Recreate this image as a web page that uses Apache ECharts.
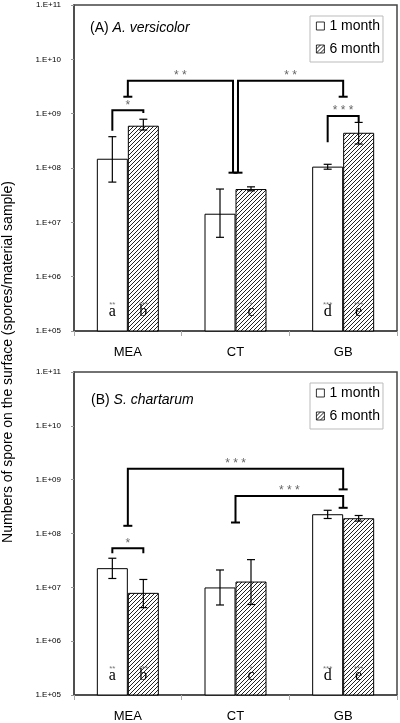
<!DOCTYPE html>
<html><head><meta charset="utf-8">
<script src="https://cdn.jsdelivr.net/npm/echarts@6/dist/echarts.min.js"></script>
<style>html,body{margin:0;padding:0;background:#fff}#c{width:400px;height:723px}</style>
</head><body><div id="c"></div>
<script>
// ---------- data ----------
const categories = ['MEA', 'CT', 'GB'];
const seriesNames = ['1 month', '6 month'];
const yTickLabels = ['1.E+05', '1.E+06', '1.E+07', '1.E+08', '1.E+09', '1.E+10', '1.E+11'];
const yMin = 1e5, yMax = 1e11;

// Panel A: A. versicolor
const A_1m    = [1.48e8, 1.44e7, 1.06e8];
const A_1m_lo = [5.5e7, 5.3e6, 9.5e7];
const A_1m_hi = [3.77e8, 4.1e7, 1.17e8];
const A_6m    = [6.0e8, 4.1e7, 4.45e8];
const A_6m_lo = [5.0e8, 3.8e7, 2.76e8];
const A_6m_hi = [7.9e8, 4.5e7, 6.9e8];

// Panel B: S. chartarum
const B_1m    = [2.27e7, 9.95e6, 2.28e8];
const B_1m_lo = [1.46e7, 4.7e6, 1.9e8];
const B_1m_hi = [3.47e7, 2.1e7, 2.7e8];
const B_6m    = [7.9e6, 1.28e7, 1.92e8];
const B_6m_lo = [4.2e6, 4.8e6, 1.7e8];
const B_6m_hi = [1.4e7, 3.27e7, 2.16e8];

// letters / stars under the bars
const letters1m = ['a', '', 'd'];
const stars1m   = ['**', '', '***'];
const letters6m = ['b', 'c', 'e'];
const stars6m   = ['***', '*', '***'];

// significance brackets: x = [category, offset in bar widths], y values in data units
const bracketsA = [
  {x1: [0, -0.5], y1: 4.85e8, x2: [0, 0.5], y2: 1.03e9, top: 1.15e9, caps: [0, 0], label: '*'},
  {x1: [0, 0], y1: 2.05e9, x2: [1, -0.08], y2: 8.2e7, top: 4.04e9, caps: [1, 1], label: '* *'},
  {x1: [1, 0.08], y1: 8.2e7, x2: [2, 0], y2: 2.05e9, top: 4.04e9, caps: [1, 1], label: '* *'},
  {x1: [2, -0.5], y1: 2.97e8, x2: [2, 0.5], y2: 6.9e8, top: 9.06e8, caps: [0, 0], label: '* * *'}
];
const bracketsB = [
  {x1: [0, -0.5], y1: 4.3e7, x2: [0, 0.5], y2: 4.3e7, top: 5.3e7, caps: [0, 0], label: '*'},
  {x1: [0, 0], y1: 1.39e8, x2: [2, 0], y2: 6.6e8, top: 1.59e9, caps: [1, 1], label: '* * *'},
  {x1: [1, 0], y1: 1.6e8, x2: [2, 0], y2: 3.0e8, top: 4.96e8, caps: [1, 1], label: '* * *'}
];

// ---------- style ----------
const BAR_W = 31;
const CAP = 4;
const SANS = '"Liberation Sans", Arial, sans-serif';
const SERIF = '"Liberation Serif", "Times New Roman", serif';

function hatch() {
  const c = document.createElement('canvas');
  c.width = 4; c.height = 4;
  const g = c.getContext('2d');
  g.fillStyle = '#fff'; g.fillRect(0, 0, 4, 4);
  g.strokeStyle = '#222'; g.lineWidth = 1;
  g.beginPath();
  g.moveTo(0, 4); g.lineTo(4, 0);
  g.moveTo(-1, 1); g.lineTo(1, -1);
  g.moveTo(3, 5); g.lineTo(5, 3);
  g.stroke();
  return c;
}
const hatchPattern = {image: hatch(), repeat: 'repeat'};

function barSeries(name, data, gi, hatched) {
  return {
    name, type: 'bar', xAxisIndex: gi, yAxisIndex: gi, data,
    barWidth: BAR_W, barGap: '0%', clip: true,
    itemStyle: {color: hatched ? hatchPattern : '#fff', borderColor: '#000', borderWidth: 1},
    emphasis: {disabled: true}
  };
}

function errSeries(lo1, hi1, lo6, hi6, gi) {
  const rows = [];
  categories.forEach((c, i) => {
    rows.push([i, lo1[i], hi1[i], -0.5]);
    rows.push([i, lo6[i], hi6[i], 0.5]);
  });
  return {
    type: 'custom', xAxisIndex: gi, yAxisIndex: gi, z: 5, silent: true,
    data: rows,
    renderItem(params, api) {
      const off = api.value(3) * BAR_W;
      const a = api.coord([api.value(0), api.value(1)]);
      const b = api.coord([api.value(0), api.value(2)]);
      const x = a[0] + off;
      const st = {stroke: '#000', lineWidth: 1.2};
      return {type: 'group', children: [
        {type: 'line', shape: {x1: x, y1: a[1], x2: x, y2: b[1]}, style: st},
        {type: 'line', shape: {x1: x - CAP, y1: a[1], x2: x + CAP, y2: a[1]}, style: st},
        {type: 'line', shape: {x1: x - CAP, y1: b[1], x2: x + CAP, y2: b[1]}, style: st}
      ]};
    }
  };
}

function bracketSeries(list, gi) {
  return {
    type: 'custom', xAxisIndex: gi, yAxisIndex: gi, z: 6, silent: true, clip: false,
    data: list.map(b => [b.x1[0], b.top]),
    renderItem(params, api) {
      const b = list[params.dataIndex];
      const p = (x, y) => { const c = api.coord([x[0], y]); return [c[0] + x[1] * BAR_W, c[1]]; };
      const a1 = p(b.x1, b.y1), t1 = p(b.x1, b.top), t2 = p(b.x2, b.top), a2 = p(b.x2, b.y2);
      const st = {stroke: '#000', lineWidth: 2, fill: 'none'};
      const ch = [{type: 'polyline', shape: {points: [a1, t1, t2, a2]}, style: st}];
      if (b.caps[0]) ch.push({type: 'line', shape: {x1: a1[0] - CAP - 0.5, y1: a1[1], x2: a1[0] + CAP + 0.5, y2: a1[1]}, style: st});
      if (b.caps[1]) ch.push({type: 'line', shape: {x1: a2[0] - CAP - 0.5, y1: a2[1], x2: a2[0] + CAP + 0.5, y2: a2[1]}, style: st});
      ch.push({type: 'text', x: (t1[0] + t2[0]) / 2, y: t1[1] - 5,
        style: {text: b.label, fill: '#666', font: '12px ' + SANS, align: 'center', verticalAlign: 'middle'}});
      return {type: 'group', children: ch};
    }
  };
}

function letterSeries(gi) {
  const rows = [];
  categories.forEach((c, i) => {
    rows.push([i, yMin, -0.5, letters1m[i], stars1m[i]]);
    rows.push([i, yMin, 0.5, letters6m[i], stars6m[i]]);
  });
  return {
    type: 'custom', xAxisIndex: gi, yAxisIndex: gi, z: 7, silent: true, clip: false,
    data: rows.map(r => [r[0], r[1]]),
    renderItem(params, api) {
      const r = rows[params.dataIndex];
      const c = api.coord([r[0], r[1]]);
      const x = c[0] + r[2] * BAR_W;
      return {type: 'group', children: [
        {type: 'text', x: x, y: c[1] - 19, style: {text: r[3], fill: '#000', font: '16px ' + SERIF, align: 'center', verticalAlign: 'middle'}},
        {type: 'text', x: x, y: c[1] - 26.5, style: {text: r[4], fill: '#777', font: '8px ' + SANS, align: 'center', verticalAlign: 'middle'}}
      ]};
    }
  };
}

const grids = [
  {left: 74, top: 5, width: 323, height: 326},
  {left: 74, top: 372, width: 323, height: 325}
].map(g => Object.assign(g, {show: true, borderColor: '#444', borderWidth: 1.5, backgroundColor: 'transparent'}));

const xAxes = [0, 1].map(i => ({
  type: 'category', gridIndex: i, data: categories,
  axisLine: {lineStyle: {color: '#444', width: 1.5}},
  axisTick: {show: true, length: 5, lineStyle: {color: '#aaa'}},
  axisLabel: {color: '#000', fontSize: 13, fontFamily: SANS, margin: 15}
}));

const yAxes = [0, 1].map(i => ({
  type: 'log', gridIndex: i, logBase: 10, min: yMin, max: yMax, splitNumber: 6,
  axisLine: {show: true, lineStyle: {color: '#444', width: 1.5}},
  axisTick: {show: true, length: 3, lineStyle: {color: '#999'}},
  splitLine: {show: false},
  axisLabel: {
    color: '#000', fontSize: 8, margin: 13,
    fontFamily: '"Liberation Sans Narrow", "Arial Narrow", ' + SANS,
    formatter: v => yTickLabels[Math.round(Math.log10(v)) - 5] || ''
  }
}));

const legendBase = {
  orient: 'vertical', left: 310, data: seriesNames,
  itemWidth: 8, itemHeight: 8, itemGap: 9, padding: [3, 3, 6, 6],
  borderColor: '#bbb', borderWidth: 1, backgroundColor: '#fff',
  icon: 'rect', selectedMode: false,
  itemStyle: {borderWidth: 0.8},
  textStyle: {fontSize: 14, fontFamily: SANS, fontWeight: 'normal', color: '#000', lineHeight: 14}
};

const richTitle = {
  n: {fontSize: 14, fontFamily: SANS, fontWeight: 'normal', color: '#000'},
  i: {fontSize: 14, fontFamily: SANS, fontWeight: 'normal', fontStyle: 'italic', color: '#000'}
};

const option = {
  animation: false,
  backgroundColor: '#fff',
  grid: grids,
  xAxis: xAxes,
  yAxis: yAxes,
  legend: [Object.assign({top: 16}, legendBase), Object.assign({top: 383}, legendBase)],
  title: [
    {left: 90, top: 21, padding: 0, text: '{n|(A) }{i|A. versicolor}', textStyle: {fontWeight: 'normal', rich: richTitle}},
    {left: 91, top: 393, padding: 0, text: '{n|(B) }{i|S. chartarum}', textStyle: {fontWeight: 'normal', rich: richTitle}}
  ],
  graphic: [{
    type: 'text', x: 8, y: 362, rotation: Math.PI / 2,
    style: {text: 'Numbers of spore on the surface (spores/material sample)', font: '14px ' + SANS, fill: '#000', align: 'center', verticalAlign: 'middle'}
  }],
  series: [
    barSeries(seriesNames[0], A_1m, 0, false),
    barSeries(seriesNames[1], A_6m, 0, true),
    barSeries(seriesNames[0], B_1m, 1, false),
    barSeries(seriesNames[1], B_6m, 1, true),
    errSeries(A_1m_lo, A_1m_hi, A_6m_lo, A_6m_hi, 0),
    errSeries(B_1m_lo, B_1m_hi, B_6m_lo, B_6m_hi, 1),
    bracketSeries(bracketsA, 0),
    bracketSeries(bracketsB, 1),
    letterSeries(0),
    letterSeries(1)
  ]
};

const chart = echarts.init(document.getElementById('c'), null, {renderer: 'canvas'});
chart.setOption(option);
</script>
</body></html>
